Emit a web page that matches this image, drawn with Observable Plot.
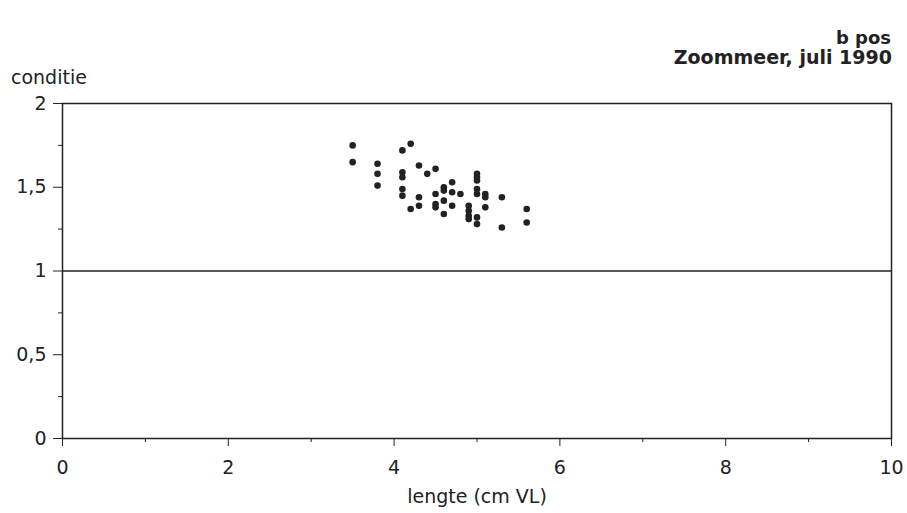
<!DOCTYPE html>
<html>
<head>
<meta charset="utf-8">
<script src="https://cdn.jsdelivr.net/npm/d3@7"></script>
<script src="https://cdn.jsdelivr.net/npm/@observablehq/plot@0.6"></script>
<style>
  body { margin: 0; background: #fff; }
  #wrap { position: relative; width: 907px; height: 513px; font-family: "DejaVu Sans", sans-serif; color: #222; }
  .lbl { position: absolute; white-space: nowrap; line-height: normal; }
</style>
</head>
<body>
<div id="wrap">
  <div class="lbl" style="right:16px; top:27px; font-weight:bold; font-size:18px;">b pos</div>
  <div class="lbl" style="right:15px; top:46px; font-weight:bold; font-size:19px;">Zoommeer, juli 1990</div>
  <div class="lbl" style="left:11px; top:66px; font-size:19px;">conditie</div>
</div>
<script>
const lengte = [3.5,3.5, 3.8,3.8,3.8, 4.1,4.1,4.1,4.1,4.1, 4.2,4.2, 4.3,4.3,4.3, 4.4, 4.5,4.5,4.5,4.5, 4.6,4.6,4.6,4.6, 4.7,4.7,4.7, 4.8, 4.9,4.9,4.9,4.9, 5.0,5.0,5.0,5.0,5.0,5.0,5.0, 5.1,5.1,5.1, 5.3,5.3, 5.6,5.6];
const conditie = [1.75,1.65, 1.64,1.58,1.51, 1.72,1.59,1.56,1.49,1.45, 1.76,1.37, 1.63,1.44,1.39, 1.58, 1.61,1.46,1.40,1.38, 1.50,1.48,1.42,1.34, 1.53,1.47,1.39, 1.46, 1.39,1.36,1.33,1.31, 1.58,1.56,1.54,1.49,1.46,1.32,1.28, 1.46,1.44,1.38, 1.44,1.26, 1.37,1.29];
const xTicks = [0,2,4,6,8,10];
const xMinor = [1,3,5,7,9];
const yTicks = [0,0.5,1,1.5,2];
const yMinor = [0.25,0.75,1.25,1.75];
const refLine = [1];

const data = lengte.map((x,i) => ({x, y: conditie[i]}));
const ink = "#222";

const chart = Plot.plot({
  width: 907,
  height: 513,
  marginLeft: 62,
  marginRight: 16,
  marginTop: 103,
  marginBottom: 75,
  style: {fontFamily: "DejaVu Sans, sans-serif", fontSize: "19px", color: ink, background: "transparent", overflow: "visible"},
  x: {domain: [0,10]},
  y: {domain: [0,2]},
  marks: [
    Plot.frame({stroke: ink, strokeWidth: 1.5}),
    Plot.ruleY(refLine, {stroke: ink, strokeWidth: 1.5}),
    Plot.axisX({ticks: xTicks, tickSize: 8, tickPadding: 14, tickFormat: d => String(d), label: "lengte (cm VL)", labelAnchor: "center", labelArrow: "none", labelOffset: 64, stroke: ink, fill: ink}),
    Plot.axisX({ticks: xMinor, tickSize: 4, tickFormat: () => "", label: null, stroke: ink}),
    Plot.axisY({ticks: yTicks, tickSize: 9, tickPadding: 7, tickFormat: d => String(d).replace(".", ","), label: null, stroke: ink, fill: ink}),
    Plot.axisY({ticks: yMinor, tickSize: 4, tickFormat: () => "", label: null, stroke: ink}),
    Plot.dot(data, {x: "x", y: "y", r: 3.3, fill: ink, stroke: "none"})
  ]
});
document.getElementById("wrap").appendChild(chart);
</script>
</body>
</html>
